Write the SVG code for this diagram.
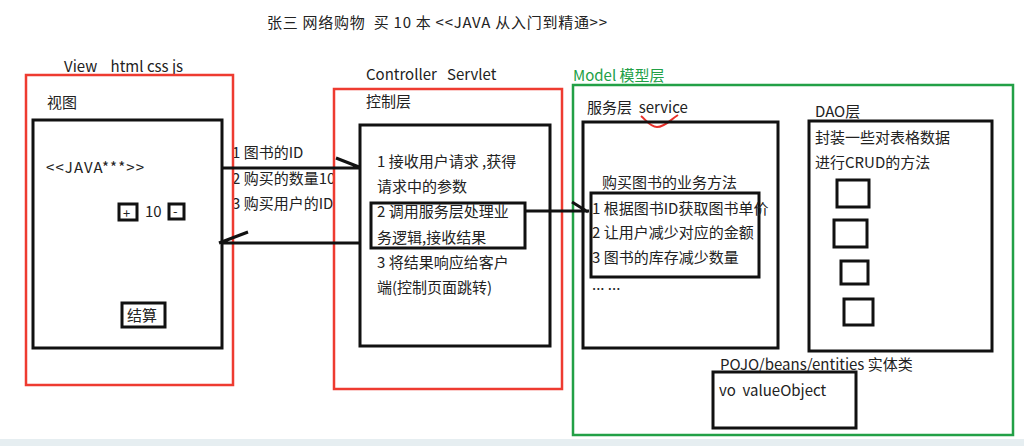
<svg xmlns="http://www.w3.org/2000/svg" width="1024" height="446" viewBox="0 0 1024 446" xml:space="preserve">
<style>
text{font-family:"Noto Sans CJK SC","Liberation Sans",sans-serif;font-size:15px;fill:#222;white-space:pre}
.box{fill:none;stroke:#111;stroke-width:3}
.red{fill:none;stroke:#ee3b30;stroke-width:2.5}
.green{fill:none;stroke:#22a046;stroke-width:2.5}
.ln{fill:none;stroke:#111;stroke-width:3}
</style>
<rect width="1024" height="446" fill="#fff"/>
<rect x="0" y="439" width="1024" height="7" fill="#e6eef1"/>
<text x="267" y="28" textLength="340" lengthAdjust="spacing">张三 网络购物  买 10 本 &lt;&lt;JAVA 从入门到精通&gt;&gt;</text>

<g id="view">
<text x="64" y="72">View    html css js</text>
<text x="47" y="108">视图</text>
<rect class="box" x="33" y="120" width="189" height="228"/>
<text x="46" y="173" textLength="98" lengthAdjust="spacing">&lt;&lt;JAVA***&gt;&gt;</text>
<rect class="box" x="119" y="204" width="18" height="16"/>
<text x="123" y="218" style="font-size:13px">+</text>
<text x="145" y="217">10</text>
<rect class="box" x="169" y="204" width="15" height="15"/>
<text x="173" y="216" style="font-size:13px">-</text>
<rect class="box" x="122" y="303" width="43" height="24"/>
<text x="127" y="321">结算</text>
</g>

<g id="labels">
<text x="232" y="158">1 图书的ID</text>
<text x="232" y="184">2 购买的数量10</text>
<text x="232" y="209">3 购买用户的ID</text>
</g>

<g id="controller">
<text x="366" y="80">Controller   Servlet</text>
<text x="366" y="107">控制层</text>
<rect class="box" x="360" y="125" width="190" height="221"/>
<text x="377" y="167">1 接收用户请求 ,获得</text>
<text x="377" y="192">请求中的参数</text>
<rect class="box" x="371" y="203" width="154" height="45"/>
<text x="377" y="217">2 调用服务层处理业</text>
<text x="377" y="243">务逻辑,接收结果</text>
<text x="377" y="268">3 将结果响应给客户</text>
<text x="377" y="293">端(控制页面跳转)</text>
</g>

<g id="model">
<text x="573" y="81" style="fill:#22a046">Model 模型层</text>
<g id="service">
<text x="587" y="113">服务层  service</text>
<path d="M641,116 C646,120 650,127 657,127 C665,127 670,120 678,115" fill="none" stroke="#e8302a" stroke-width="2"/>
<rect class="box" x="583" y="122" width="195" height="226"/>
<text x="602" y="188">购买图书的业务方法</text>
<rect class="box" x="591" y="193" width="168" height="84"/>
<text x="592" y="214">1 根据图书ID获取图书单价</text>
<text x="592" y="238">2 让用户减少对应的金额</text>
<text x="592" y="263">3 图书的库存减少数量</text>
<text x="592" y="290">... ...</text>
</g>
<g id="dao">
<text x="815" y="117">DAO层</text>
<rect class="box" x="809" y="121" width="183" height="230"/>
<text x="815" y="143">封装一些对表格数据</text>
<text x="815" y="168">进行CRUD的方法</text>
<rect class="box" x="837" y="180" width="32" height="27"/>
<rect class="box" x="834" y="220" width="33" height="27"/>
<rect class="box" x="841" y="261" width="27" height="23"/>
<rect class="box" x="844" y="299" width="29" height="26"/>
</g>
<g id="pojo">
<text x="720" y="370">POJO/beans/entities 实体类</text>
<rect class="box" x="713" y="372" width="143" height="56"/>
<text x="719" y="396">vo  valueObject</text>
</g>
</g>

<g id="frames">
<rect class="red" x="26" y="75" width="207" height="310"/>
<rect class="red" x="334" y="89" width="228" height="300"/>
<rect class="green" x="573" y="85" width="440" height="350"/>
</g>

<g id="connectors">
<path class="ln" d="M222,168 H360 M336,158 L359,167"/>
<path class="ln" d="M360,243 H222 M219,243 L248,232"/>
<path class="ln" d="M525,211 H589 M572,202 L588,212"/>
</g>
</svg>
